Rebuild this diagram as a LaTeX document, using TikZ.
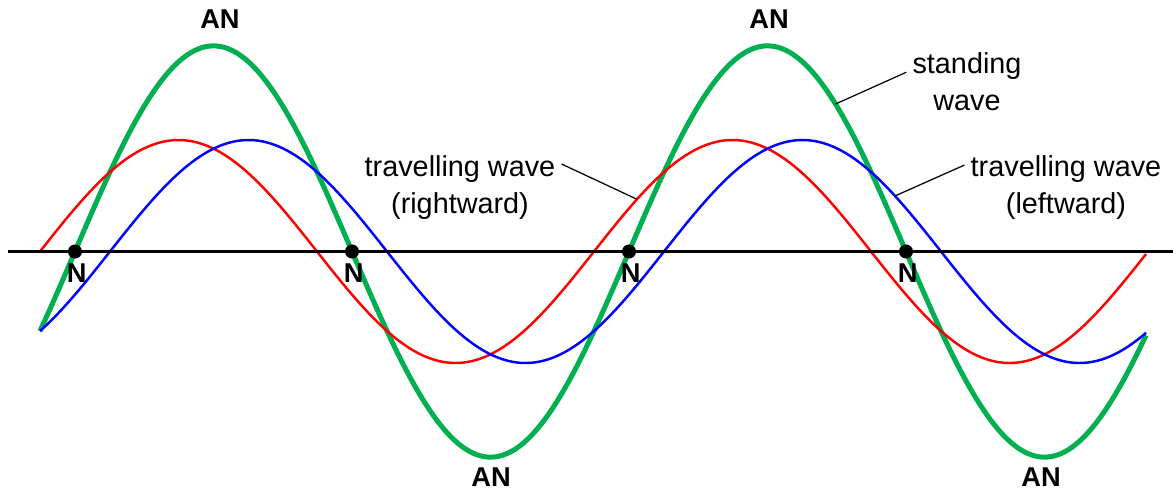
\documentclass[tikz,border=0pt]{standalone}
\usepackage{fontspec}
\setmainfont{Liberation Sans}
\usetikzlibrary{positioning}

\definecolor{swgreen}{RGB}{0,176,80}

\begin{document}
\begin{tikzpicture}[
    x=0.02cm, y=-0.02cm,
    declare function={rw(\t)=111.5*sin((\t-40)/554*360); lw(\t)=111.5*sin((\t-110)/554*360);},
    wave/.style={line width=1.4pt, smooth, samples=300},
    standwave/.style={draw=swgreen, line width=2.85pt, smooth, samples=300},
    axisline/.style={line width=1.5pt},
    nodept/.style={circle, fill=black, inner sep=0pt, minimum size=8pt},
    nlabel/.style={inner sep=0pt, font=\fontsize{15.5}{18}\selectfont\bfseries},
    caption/.style={align=center, font=\fontsize{16.4}{21}\selectfont},
    leader/.style={line width=0.7pt}
]
\useasboundingbox (0,0) rectangle (1173,495);

% Waves
\draw[standwave] plot[domain=40:1146] (\x, {251.5-rw(\x)-lw(\x)});
\draw[wave, red] plot[domain=40:1146] (\x, {251.5-rw(\x)});
\draw[wave, blue] plot[domain=40:1146] (\x, {251.5-lw(\x)});

% Axis
\coordinate (axl) at (8,251.5);
\coordinate (axr) at (1173,251.5);
\draw[axisline] (axl) -- (axr);

% Nodes
\node[nodept] (n1) at (75,251.5) {};
\node[nodept] (n2) at (352,251.5) {};
\node[nodept] (n3) at (629,251.5) {};
\node[nodept] (n4) at (906,251.5) {};
\node[nlabel, below=2.5pt of n1, xshift=1pt] (ln1) {N};
\node[nlabel, below=2.5pt of n2, xshift=1pt] (ln2) {N};
\node[nlabel, below=2.5pt of n3, xshift=1pt] (ln3) {N};
\node[nlabel, below=2.5pt of n4, xshift=1pt] (ln4) {N};

% Antinodes
\node[nlabel] (an1) at (220,19.5) {AN};
\node[nlabel] (an2) at (769,19.5) {AN};
\node[nlabel] (an3) at (491,477.5) {AN};
\node[nlabel] (an4) at (1041,477.5) {AN};

% Captions (base = last line)
\node[caption, anchor=base] (stand) at (967,110) {standing\\wave};
\node[caption, anchor=base] (trright) at (460,213) {travelling wave\\(rightward)};
\node[caption, anchor=base] (trleft) at (1066,213) {travelling wave\\(leftward)};

\coordinate (onstand) at (835.5,{251.5-rw(835.5)-lw(835.5)});
\coordinate (onred) at (637,{251.5-rw(637)});
\coordinate (onblue) at (895,{251.5-lw(895)});

\draw[leader] ([yshift=21.5pt]stand.base west) -- (onstand);
\draw[leader] ([yshift=27.9pt]trright.base east) -- (onred);
\draw[leader] ([yshift=27.3pt]trleft.base west) -- (onblue);

\end{tikzpicture}
\end{document}
